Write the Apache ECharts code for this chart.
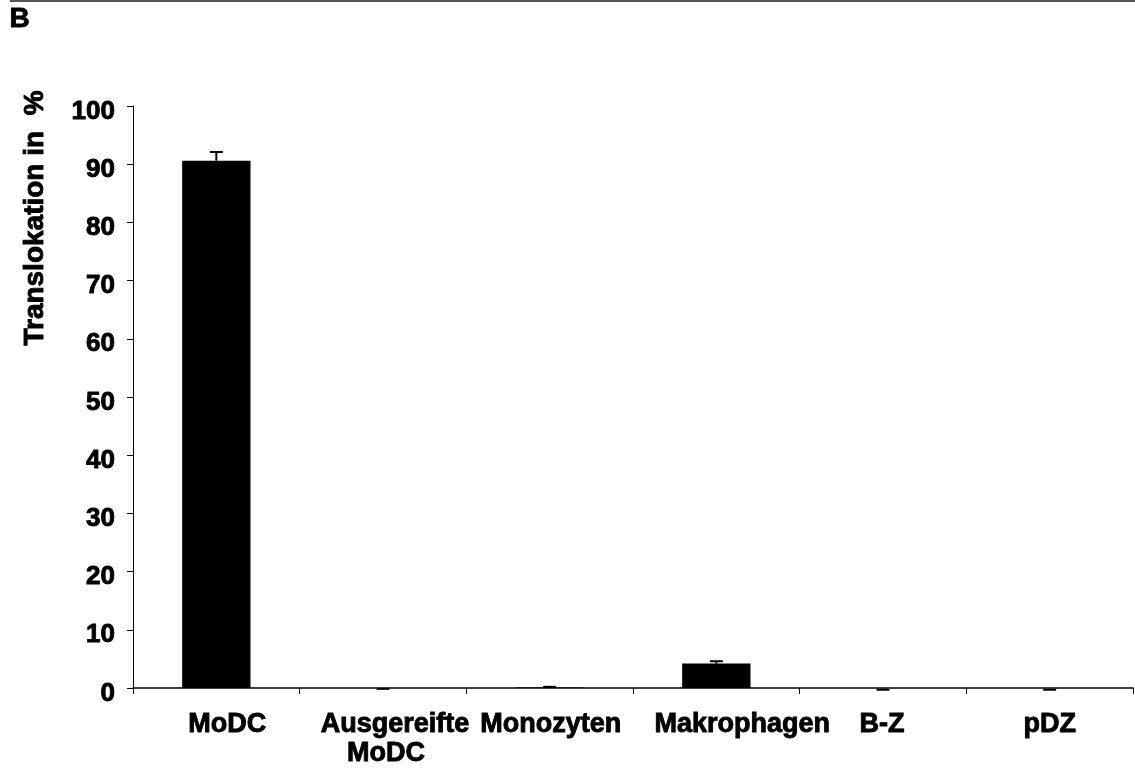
<!DOCTYPE html>
<html>
<head>
<meta charset="utf-8">
<script src="https://cdn.jsdelivr.net/npm/echarts@6/dist/echarts.min.js"></script>
<style>
html,body{margin:0;padding:0;background:#fff;}
#chart{width:1135px;height:774px;}
</style>
</head>
<body>
<div id="chart"></div>
<script>
const categories = ['MoDC', 'Ausgereifte\nMoDC', 'Monozyten', 'Makrophagen', 'B-Z', 'pDZ'];
const values = [90.6, -0.05, 0.1, 4.2, -0.1, -0.1];
const errors = [1.5, 0.1, 0.1, 0.4, 0.2, 0.2];
const yTicks = [0, 100, 10];
const yTitle = 'Translokation in  %';
const panelLabel = 'B';

// label horizontal offsets (px) per category line, to mimic reference placement
const labelShift = [[11], [12, 3], [1], [26], [-1], [0]];

const FONT = '"Liberation Sans", Arial, sans-serif';
const BOLD = { fontFamily: FONT, fontWeight: 'bold', color: '#000', textBorderColor: '#000', textBorderWidth: 0.9 };
const rich = {};
labelShift.forEach((arr, i) => {
  arr.forEach((d, j) => {
    rich['c' + i + '_' + j] = Object.assign({}, BOLD, {
      fontSize: 27, lineHeight: 29,
      padding: d >= 0 ? [0, 0, 0, 2 * d] : [0, -2 * d, 0, 0]
    });
  });
});

const chart = echarts.init(document.getElementById('chart'));
chart.setOption({
  animation: false,
  backgroundColor: '#fff',
  grid: { left: 133, right: 2, top: 106, bottom: 86, containLabel: false },
  xAxis: {
    type: 'category',
    data: categories,
    boundaryGap: true,
    axisLine: { show: true, lineStyle: { color: '#000', width: 1.5 } },
    axisTick: { show: true, interval: 0, length: 6, lineStyle: { color: '#000', width: 1 } },
    axisLabel: {
      interval: 0, margin: 22,
      fontFamily: FONT, fontWeight: 'bold', fontSize: 27, color: '#000', lineHeight: 29,
      formatter: function (value, index) {
        return value.split('\n').map((s, j) => '{c' + index + '_' + j + '|' + s + '}').join('\n');
      },
      rich: rich
    },
    splitLine: { show: false }
  },
  yAxis: {
    type: 'value',
    min: yTicks[0], max: yTicks[1], interval: yTicks[2],
    axisLine: { show: true, lineStyle: { color: '#000', width: 1 } },
    axisTick: { show: true, length: 6, lineStyle: { color: '#000', width: 1 } },
    axisLabel: {
      margin: 18, fontFamily: FONT, fontWeight: 'bold', fontSize: 26, color: '#000',
      formatter: function (v) { return '{n|' + v + '}'; },
      rich: { n: Object.assign({}, BOLD, { fontSize: 26, lineHeight: 30, padding: [11, 0, 0, 0] }) }
    },
    splitLine: { show: false }
  },
  series: [
    {
      type: 'bar',
      data: values,
      barWidth: '41%',
      itemStyle: { color: '#000' },
      z: 2
    },
    {
      type: 'custom',
      z: 3,
      data: values.map((v, i) => [i, v, errors[i]]),
      renderItem: function (params, api) {
        const i = api.value(0), v = api.value(1), e = api.value(2);
        const end = v + (v < 0 ? -e : e);
        const p0 = api.coord([i, v]);
        const p1 = api.coord([i, end]);
        const cap = 13;
        return {
          type: 'group',
          children: [
            { type: 'line', shape: { x1: p0[0], y1: p0[1], x2: p1[0], y2: p1[1] }, style: { stroke: '#000', lineWidth: 2 } },
            { type: 'line', shape: { x1: p1[0] - cap / 2, y1: p1[1], x2: p1[0] + cap / 2, y2: p1[1] }, style: { stroke: '#000', lineWidth: 2 } }
          ]
        };
      }
    }
  ],
  graphic: [
    { type: 'line', shape: { x1: 10, y1: 1, x2: 1135, y2: 1 }, style: { stroke: '#555', lineWidth: 2 } },
    { type: 'text', left: 9, top: 5, style: { text: panelLabel, fontFamily: FONT, fontWeight: 'bold', fontSize: 28, fill: '#000', stroke: '#000', lineWidth: 0.9 } },
    {
      type: 'text', x: 35.5, y: 218, rotation: Math.PI / 2,
      style: { text: yTitle, fontFamily: FONT, fontWeight: 'bold', fontSize: 28, fill: '#000', stroke: '#000', lineWidth: 0.9, align: 'center', verticalAlign: 'middle' }
    }
  ]
});
</script>
</body>
</html>
